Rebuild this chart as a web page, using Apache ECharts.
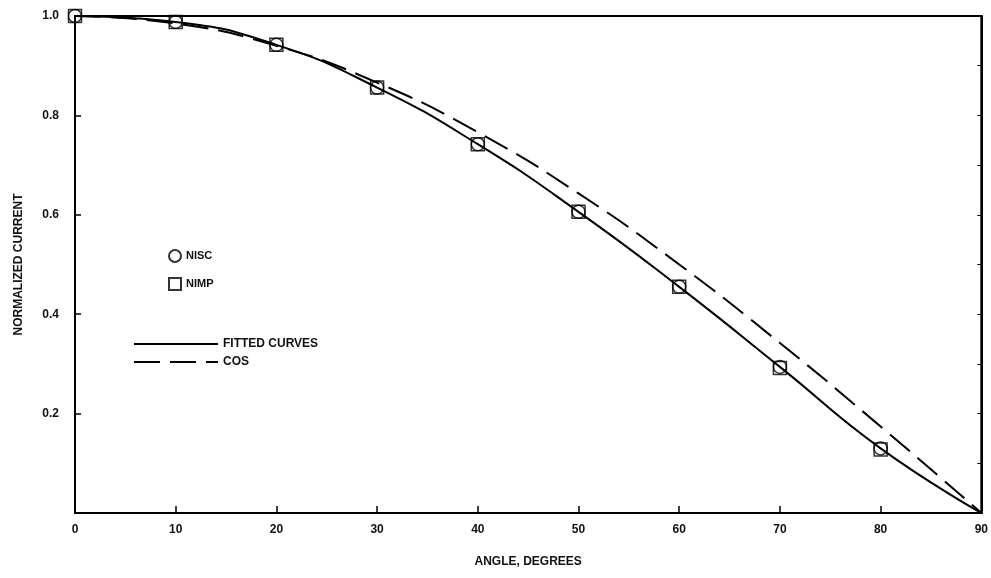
<!DOCTYPE html>
<html>
<head>
<meta charset="utf-8">
<script src="https://cdn.jsdelivr.net/npm/echarts@6/dist/echarts.min.js"></script>
<style>html,body{margin:0;padding:0;background:#fff}#c{width:991px;height:578px}</style>
</head>
<body>
<div id="c"></div>
<script>
var angles = [0, 10, 20, 30, 40, 50, 60, 70, 80, 90];
var nisc = [1.0, 0.988, 0.942, 0.856, 0.742, 0.606, 0.455, 0.294, 0.130];
var nimp = [1.0, 0.988, 0.942, 0.856, 0.742, 0.606, 0.455, 0.292, 0.128];
var fitted = [1.0, 0.988, 0.942, 0.856, 0.742, 0.606, 0.455, 0.294, 0.130, 0.0];
var cosCurve = [1.0, 0.985, 0.940, 0.866, 0.766, 0.643, 0.500, 0.342, 0.174, 0.0];
var xTicks = ['0', '10', '20', '30', '40', '50', '60', '70', '80', '90'];
var yTicks = ['', '0.2', '0.4', '0.6', '0.8', '1.0'];

function pairs(xs, ys) { return ys.map(function (v, i) { return [xs[i], v]; }); }

var font = 'Liberation Sans';
var chart = echarts.init(document.getElementById('c'));
chart.setOption({
  animation: false,
  backgroundColor: '#fff',
  color: ['#000', '#000', '#000', '#000'],
  grid: { left: 75, right: 7, top: 16, bottom: 65, show: true, borderColor: '#000', borderWidth: 2, backgroundColor: 'transparent' },
  xAxis: {
    type: 'value', min: 0, max: 90, interval: 10,
    name: 'ANGLE, DEGREES', nameLocation: 'middle', nameGap: 43,
    nameTextStyle: { fontFamily: font, fontWeight: 'bold', fontSize: 12, color: '#111' },
    axisLine: { lineStyle: { color: '#000', width: 2 } },
    axisTick: { inside: true, length: 7, lineStyle: { color: '#000', width: 1.5 } },
    axisLabel: { margin: 11, fontFamily: font, fontWeight: 'bold', fontSize: 12, color: '#111',
      formatter: function (v) { return xTicks[Math.round(v / 10)]; } },
    splitLine: { show: false }
  },
  yAxis: [{
    type: 'value', min: 0, max: 1.0, interval: 0.2,
    name: 'NORMALIZED CURRENT', nameLocation: 'middle', nameGap: 50, nameRotate: 90,
    nameTextStyle: { fontFamily: font, fontWeight: 'bold', fontSize: 12, color: '#111' },
    axisLine: { lineStyle: { color: '#000', width: 2 } },
    axisTick: { inside: true, length: 6, lineStyle: { color: '#000', width: 1.5 } },
    axisLabel: { margin: 16, fontFamily: font, fontWeight: 'bold', fontSize: 12, color: '#111',
      formatter: function (v) { return yTicks[Math.round(v / 0.2)]; } },
    splitLine: { show: false }
  }, {
    type: 'value', min: 0, max: 1.0, interval: 0.1, position: 'right',
    axisLine: { show: true, lineStyle: { color: '#000', width: 2 } },
    axisTick: { show: true, inside: true, length: 4, lineStyle: { color: '#000', width: 1 } },
    axisLabel: { show: false }, splitLine: { show: false }
  }],
  legend: [{
    data: ['NISC', 'NIMP'], orient: 'vertical', left: 163, top: 244, itemGap: 14,
    itemWidth: 12, itemHeight: 12,
    textStyle: { fontFamily: font, fontWeight: 'bold', fontSize: 11, color: '#111' }
  }, {
    data: ['FITTED CURVES', 'COS'], orient: 'vertical', left: 128, top: 333, itemGap: 6,
    itemWidth: 84, itemHeight: 10,
    textStyle: { fontFamily: font, fontWeight: 'bold', fontSize: 12, color: '#111' }
  }],
  series: [{
    name: 'COS', type: 'line', smooth: true, symbol: 'none',
    itemStyle: { color: 'rgba(0,0,0,0)' },
    lineStyle: { color: '#000', width: 2, type: [26, 10] },
    data: pairs(angles, cosCurve), z: 2
  }, {
    name: 'FITTED CURVES', type: 'line', smooth: true, symbol: 'none',
    itemStyle: { color: 'rgba(0,0,0,0)' },
    lineStyle: { color: '#000', width: 2 },
    data: pairs(angles, fitted), z: 3
  }, {
    name: 'NIMP', type: 'scatter', symbol: 'rect', symbolSize: 13,
    itemStyle: { color: 'rgba(255,255,255,0)', borderColor: '#000', borderWidth: 1.5 },
    data: pairs(angles, nimp), z: 4
  }, {
    name: 'NISC', type: 'scatter', symbol: 'circle', symbolSize: 13,
    itemStyle: { color: 'rgba(255,255,255,0)', borderColor: '#000', borderWidth: 1.5 },
    data: pairs(angles, nisc), z: 5
  }]
});
</script>
</body>
</html>
